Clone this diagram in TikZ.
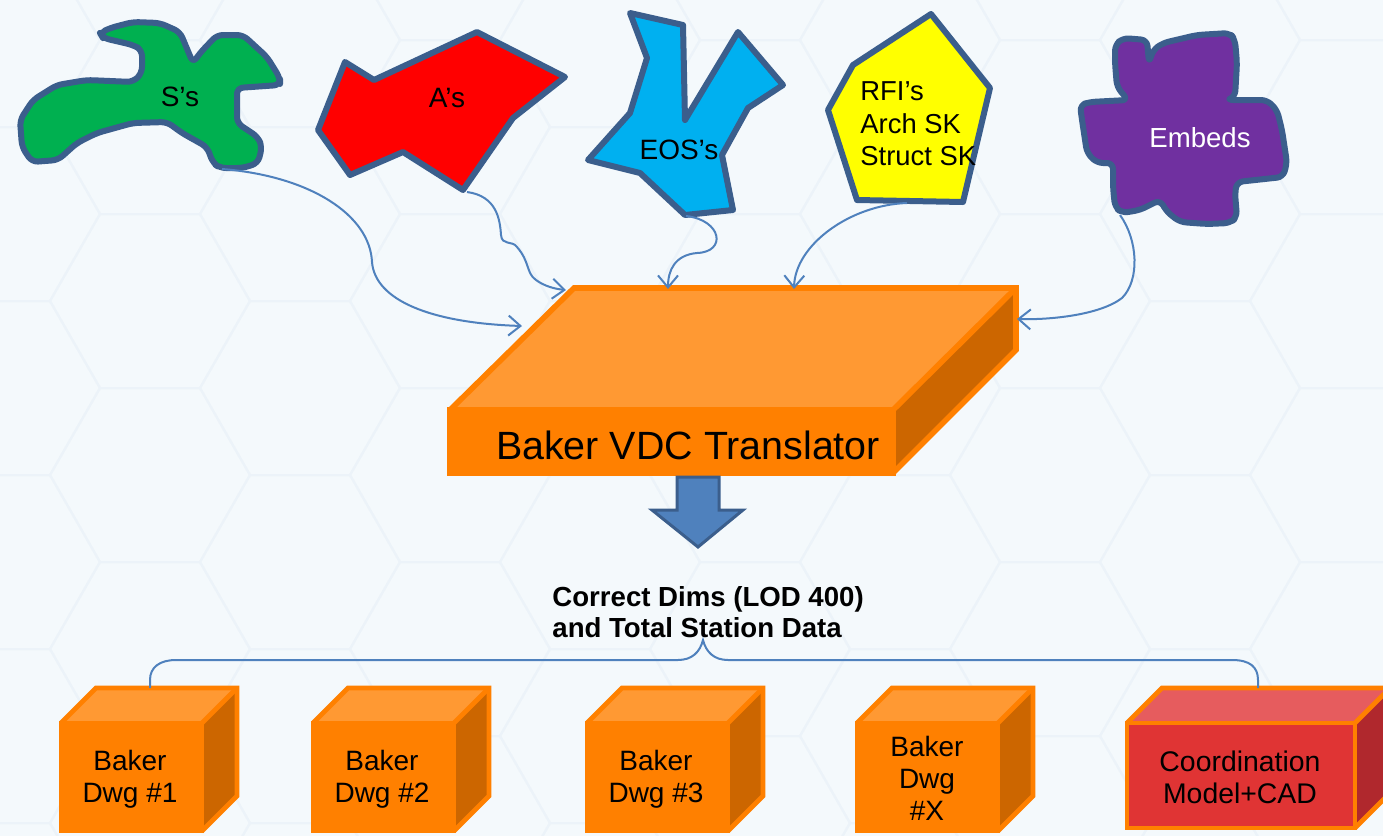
\documentclass[tikz,border=0pt]{standalone}
\usepackage{fontspec}
\setmainfont{Liberation Sans}
\usetikzlibrary{arrows.meta}
\definecolor{bg}{HTML}{F4F9FC}
\definecolor{hexc}{HTML}{ECF3F9}
\definecolor{edge}{HTML}{3B5E8C}
\definecolor{conn}{HTML}{4F81BD}
\definecolor{sgreen}{HTML}{00B050}
\definecolor{ared}{HTML}{FF0000}
\definecolor{eblue}{HTML}{00B0F0}
\definecolor{ryellow}{HTML}{FFFF00}
\definecolor{epurple}{HTML}{7030A0}
\definecolor{orfront}{HTML}{FF8000}
\definecolor{ortop}{HTML}{FF9933}
\definecolor{orside}{HTML}{CC6600}
\definecolor{rdfront}{HTML}{E03434}
\definecolor{rdtop}{HTML}{E65C5E}
\definecolor{rdside}{HTML}{B0282D}
\newcommand{\drawcube}[8]{% left,right,top,bottom,depth,front,top,side
  \fill[#6] (#1,#3) rectangle (#2,#4);
  \fill[#7] (#1,#3) -- ({#1+#5},{#3-#5}) -- ({#2+#5},{#3-#5}) -- (#2,#3) -- cycle;
  \fill[#8] (#2,#3) -- ({#2+#5},{#3-#5}) -- ({#2+#5},{#4-#5}) -- (#2,#4) -- cycle;
  \draw[cubeedge] (#1,#3) rectangle (#2,#4);
  \draw[cubeedge] (#1,#3) -- ({#1+#5},{#3-#5}) -- ({#2+#5},{#3-#5}) -- ({#2+#5},{#4-#5}) -- (#2,#4);
  \draw[cubeedge] (#2,#3) -- ({#2+#5},{#3-#5});
}
\begin{document}
\begin{tikzpicture}[x=0.5pt,y=-0.5pt,
  shapeedge/.style={draw=edge, line width=3pt, line join=round},
  cubeedge/.style={draw=orfront, line width=2.4pt, line join=miter},
  connline/.style={draw=conn, line width=1pt},
  connarrow/.style={connline, -{Straight Barb[length=6pt,width=10pt,line width=1pt]}},
  shapetext/.style={font=\fontsize{14}{16}\selectfont, inner sep=0pt},
  cubetext/.style={font=\fontsize{14}{16}\selectfont, align=center, inner sep=0pt},
  hexline/.style={draw=hexc, line width=1pt}]
\useasboundingbox (0,0) rectangle (1383,836);
\fill[bg] (0,0) rectangle (1383,836);

% faint hexagon background pattern
\begin{scope}
\clip (0,0) rectangle (1383,836);
\foreach \col in {0,...,10}{
  \foreach \row in {-1,...,5}{
    \pgfmathsetmacro{\cx}{\col*150}
    \pgfmathsetmacro{\cy}{\row*174+mod(\col,2)*87+40}
    \draw[hexline] ({\cx+100},\cy) -- ({\cx+50},{\cy+87}) -- ({\cx-50},{\cy+87})
      -- ({\cx-100},\cy) -- ({\cx-50},{\cy-87}) -- ({\cx+50},{\cy-87}) -- cycle;
  }
}
\end{scope}

% S's (green blob)
\path[shapeedge, fill=sgreen, rounded corners=3pt]
 (100,33) -- (110,28) -- (133,22) -- (160,23) -- (180,32) -- (193,63) -- (200,53) -- (217,35)
 -- (243,35) -- (267,57) -- (280,78) -- (280,85) -- (237,88) -- (237,123) -- (258,137)
 -- (262,147) -- (258,163) -- (243,168) -- (220,168) -- (213,163) -- (207,147) -- (182,133)
 -- (167,122) -- (133,123) -- (97,133) -- (77,143) -- (58,160) -- (32,162) -- (22,147)
 -- (20,120) -- (33,100) -- (57,85) -- (87,80) -- (133,82) -- (142,73) -- (142,50)
 -- (133,45) -- (103,38) -- cycle;
\node[shapetext] (s) at (180,97) {S’s};

% A's (red polygon)
\path[shapeedge, fill=ared]
 (345,62) -- (374,80) -- (477,32) -- (565,77) -- (513,118) -- (463,190) -- (403,152)
 -- (350,175) -- (318,130) -- cycle;
\node[shapetext] (a) at (447,98) {A’s};

% EOS's (blue polygon)
\path[shapeedge, fill=eblue]
 (630,13) -- (683,25) -- (685,120) -- (738,32) -- (783,85) -- (748,108) -- (722,155)
 -- (733,210) -- (685,215) -- (640,173) -- (588,160) -- (630,113) -- (647,58) -- cycle;
\node[shapetext] (eos) at (679,150) {EOS’s};

% RFI's (yellow pentagon)
\path[shapeedge, fill=ryellow]
 (931,14) -- (990,88) -- (963,202) -- (857,200) -- (828,110) -- (853,65) -- cycle;
\node[font=\fontsize{13.7}{16.3}\selectfont, align=left, anchor=west, inner sep=0pt] (rfi) at (860,124)
 {RFI’s\\Arch SK\\Struct SK};

% Embeds (purple blob)
\path[shapeedge, fill=epurple, rounded corners=3pt]
 (1115,45) -- (1123,38) -- (1147,40) -- (1149,63) -- (1153,50) -- (1163,43) -- (1197,35)
 -- (1230,33) -- (1235,40) -- (1237,63) -- (1235,97) -- (1227,100) -- (1267,100) -- (1277,110)
 -- (1282,130) -- (1287,163) -- (1283,177) -- (1237,182) -- (1235,193) -- (1237,217)
 -- (1230,223) -- (1207,224) -- (1180,222) -- (1167,212) -- (1160,200) -- (1140,210)
 -- (1122,213) -- (1115,207) -- (1113,187) -- (1113,163) -- (1097,163) -- (1087,153)
 -- (1082,120) -- (1080,105) -- (1090,102) -- (1128,100) -- (1117,87) -- (1115,63) -- cycle;
\node[shapetext, text=white, font=\fontsize{13.8}{16}\selectfont] (emb) at (1200,138) {Embeds};

% Baker VDC Translator box
\fill[orfront] (450,410) rectangle (893,473);
\fill[ortop] (450,410) -- (574,288) -- (1016,288) -- (893,410) -- cycle;
\fill[orside] (893,410) -- (1016,288) -- (1016,350) -- (893,473) -- cycle;
\draw[cubeedge, line width=2.8pt] (450,410) rectangle (893,473);
\draw[cubeedge, line width=2.8pt] (450,410) -- (574,288) -- (1016,288) -- (1016,350) -- (893,473);
\draw[cubeedge, line width=2.8pt] (893,410) -- (1016,288);
\node[font=\fontsize{19.7}{22}\selectfont, inner sep=0pt] (trans) at (688,445) {Baker VDC Translator};

% connector end points
\coordinate (s1) at (222,169);
\coordinate (t1) at (522,326);
\coordinate (a1) at (467,192);
\coordinate (t2) at (566,290);
\coordinate (e1) at (686,216);
\coordinate (t3) at (668,289);
\coordinate (r1) at (907,203);
\coordinate (t4) at (794,289);
\coordinate (m1) at (1120,215);
\coordinate (t5) at (1017,319);

\draw[connarrow] (s1) .. controls (310,176) and (370,215) .. (372,262)
  .. controls (375,300) and (430,323) .. (t1);
\draw[connarrow] (a1) .. controls (497,196) and (500,220) .. (501,235)
  .. controls (502,246) and (512,240) .. (517,247)
  .. controls (530,262) and (526,273) .. (536,280)
  .. controls (544,286) and (555,289) .. (t2);
\draw[connarrow] (e1) .. controls (722,220) and (727,252) .. (697,253)
  .. controls (675,255) and (668,270) .. (t3);
\draw[connarrow] (r1) .. controls (850,205) and (795,245) .. (t4);
\draw[connarrow] (m1) .. controls (1138,240) and (1140,280) .. (1122,298)
  .. controls (1100,315) and (1050,320) .. (t5);

% big blue arrow
\path[fill=conn, draw=edge, line width=1.5pt, line join=miter]
 (677,477) -- (719,477) -- (719,510) -- (743,510) -- (698,547) -- (652,510) -- (677,510) -- cycle;
\coordinate (arrowtip) at (698,547);

\node[font=\bfseries\fontsize{13.8}{15.5}\selectfont, align=left, anchor=west, inner sep=0pt] (dims) at (552,612)
 {Correct Dims (LOD 400)\\and Total Station Data};

% cubes
\drawcube{61}{202}{723}{831}{35}{orfront}{ortop}{orside}
\node[cubetext] (c1) at (130,779) {Baker\\Dwg \#1};
\drawcube{313}{454}{723}{831}{35}{orfront}{ortop}{orside}
\node[cubetext] (c2) at (382,779) {Baker\\Dwg \#2};
\drawcube{587}{728}{723}{831}{35}{orfront}{ortop}{orside}
\node[cubetext] (c3) at (656,779) {Baker\\Dwg \#3};
\drawcube{857}{998}{723}{831}{35}{orfront}{ortop}{orside}
\node[cubetext] (cx) at (927,778) {Baker\\Dwg\\\#X};
\drawcube{1127}{1355}{723}{828}{35}{rdfront}{rdtop}{rdside}
\node[cubetext, font=\fontsize{14.2}{16}\selectfont] (cc) at (1240,777) {Coordination\\Model+CAD};

% bracket connector
\coordinate (b1) at (150,688);
\coordinate (b2) at (1258,688);
\coordinate (cusp) at (703,640);
\draw[connline] (b1) -- (150,680) .. controls (150,667) and (160,660) .. (176,660) -- (678,660)
  .. controls (692,660) and (700,652) .. (cusp)
  .. controls (706,652) and (714,660) .. (728,660) -- (1232,660)
  .. controls (1250,660) and (1258,667) .. (1258,680) -- (b2);
\end{tikzpicture}
\end{document}
